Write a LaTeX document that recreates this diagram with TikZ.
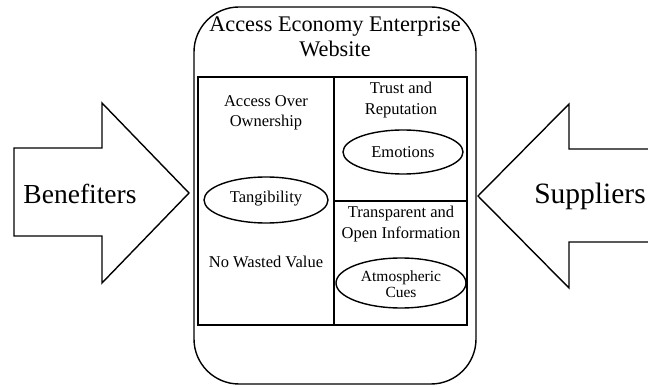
\documentclass[tikz,border=0pt]{standalone}
\usepackage{fontspec}
\setmainfont{Liberation Serif}
\begin{document}
\begin{tikzpicture}[x=1pt,y=-1pt,
  line/.style={draw=black,line width=1.4pt},
  big/.style={font=\fontsize{27.5}{30}\selectfont},
  ttl/.style={font=\fontsize{22.3}{25}\selectfont,align=center},
  lbl/.style={font=\fontsize{16.5}{20.5}\selectfont,align=center},
  oval/.style={line,ellipse}]
\useasboundingbox (0,0) rectangle (648,387);
% arrows
\draw[line,line join=miter] (648,149) -- (569,149) -- (569,104) -- (478,196) -- (569,288) -- (569,242) -- (648,242);
\draw[line,line join=miter] (14,148) -- (102,148) -- (102,103) -- (189,193) -- (102,283) -- (102,236) -- (14,236) -- cycle;
\node[big] (ben) at (80,194) {Benefiters};
\node[big,font=\fontsize{29.5}{32}\selectfont] (sup) at (590,196) {Suppliers};
% website
\draw[line,rounded corners=45pt] (194,7) rectangle (476,384);
\node[ttl] (title) at (335,37) {Access Economy Enterprise\\Website};
\draw[line] (198,77) rectangle (467,325);
\draw[line] (334,77) -- (334,325);
\draw[line] (334,201) -- (467,201);
\node[lbl] (aoo) at (266,113) {Access Over\\Ownership};
\draw[line] (266,200) ellipse [x radius=62, y radius=23];
\node[lbl] (tan) at (266,199) {Tangibility};
\node[lbl] (nwv) at (266,262) {No Wasted Value};
\node[lbl] (tr) at (401,100) {Trust and\\Reputation};
\draw[line] (403,152) ellipse [x radius=60, y radius=22];
\node[lbl] (emo) at (403,152) {Emotions};
\node[lbl] (toi) at (401,224) {Transparent and\\Open Information};
\draw[line] (401,283) ellipse [x radius=65, y radius=25];
\node[lbl,font=\fontsize{15.5}{16.5}\selectfont] (atm) at (401,284) {Atmospheric\\Cues};
\end{tikzpicture}
\end{document}
